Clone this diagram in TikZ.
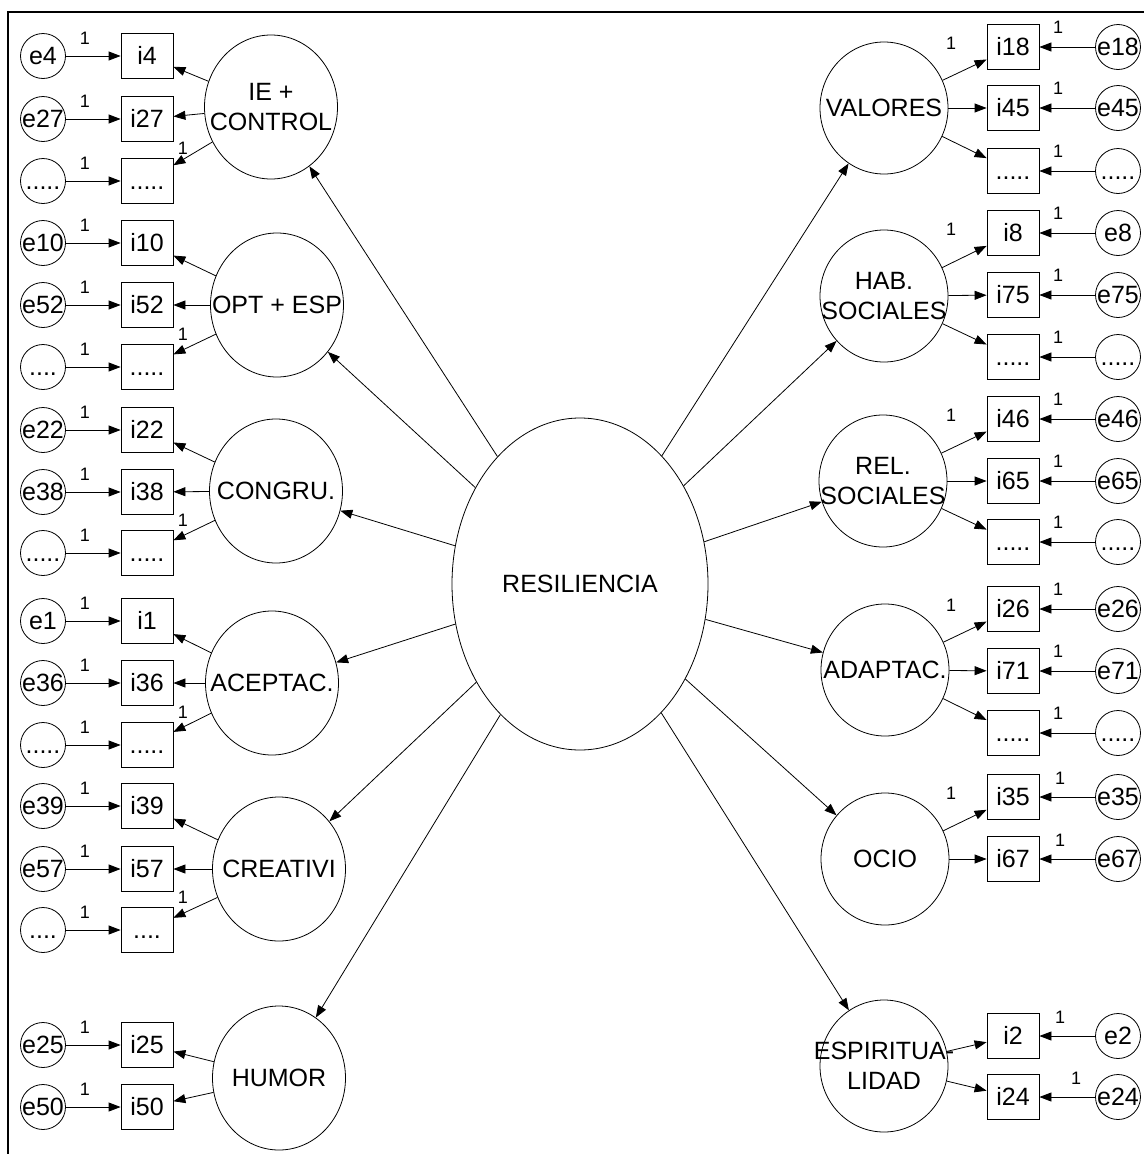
\documentclass[tikz,border=0pt]{standalone}
\usepackage{fontspec}
\setmainfont{Liberation Sans}
\usetikzlibrary{arrows.meta,shapes.geometric}
\newcommand\dotsfive{.....}
\newcommand\dotsfour{....}
\begin{document}
\begin{tikzpicture}[x=1pt,y=-1pt,
 every node/.style={font=\fontsize{25}{30}\selectfont, inner sep=0pt},
 ind/.style={draw, line width=0.8pt, minimum width=52pt, minimum height=45pt, text height=17pt, text depth=0pt},
 err/.style={draw, line width=0.8pt, circle, minimum size=45pt},
 txt/.style={text height=17pt, text depth=0pt},
 latL/.style={draw, line width=0.8pt, ellipse, minimum width=133pt, minimum height=144pt},
 latR/.style={draw, line width=0.8pt, ellipse, minimum width=128pt, minimum height=132pt},
 lab/.style={align=center},
 arr/.style={-{Triangle[length=12pt,width=9pt]}, line width=0.8pt},
 one/.style={font=\fontsize{18}{20}\selectfont},
 frame/.style={line width=2pt}
]
\useasboundingbox (0,0) rectangle (1144,1154);
\draw[frame] (8,1154) -- (8,12) -- (1144,12);

% central factor
\node[draw, line width=0.8pt, ellipse, minimum width=256pt, minimum height=332pt] (res) at (580,584) {};
\node[txt] at (res) {RESILIENCIA};

% left groups with three indicators
\foreach \n/\lx/\ly/\lab/\ya/\yb/\yc/\ba/\bb/\bc/\ea/\eb/\ec in {
  ie/271/107/{IE +\\CONTROL}/56/119/181/i4/i27/\dotsfive/e4/e27/\dotsfive,
  opt/277/305/{OPT + ESP}/243/305/367/i10/i52/\dotsfive/e10/e52/\dotsfour,
  con/276/491/{CONGRU.}/430/492/553/i22/i38/\dotsfive/e22/e38/\dotsfive,
  ace/272/683/{ACEPTAC.}/621/683/745/i1/i36/\dotsfive/e1/e36/\dotsfive,
  cre/279/869/{CREATIVI}/806/869/930/i39/i57/\dotsfour/e39/e57/\dotsfour}{
  \node[latL] (\n) at (\lx,\ly) {};
  \node[lab] at (\n) {\lab};
  \node[ind] (\n b1) at (147,\ya) {\ba};
  \node[ind] (\n b2) at (147,\yb) {\bb};
  \node[ind] (\n b3) at (147,\yc) {\bc};
  \node[err] (\n e1) at (43,\ya) {};
  \node[err] (\n e2) at (43,\yb) {};
  \node[err] (\n e3) at (43,\yc) {};
  \node[txt] at (\n e1) {\ea};
  \node[txt] at (\n e2) {\eb};
  \node[txt] at (\n e3) {\ec};
  \draw[arr] (\n) -- (\n b1);
  \draw[arr] (\n) -- (\n b2);
  \draw[arr] (\n) -- (\n b3);
  \draw[arr] (\n e1) -- (\n b1);
  \draw[arr] (\n e2) -- (\n b2);
  \draw[arr] (\n e3) -- (\n b3);
  \node[one] at (85,\ya-18) {1};
  \node[one] at (85,\yb-18) {1};
  \node[one] at (85,\yc-18) {1};
  \node[one] at (183,\yc-33) {1};
  \draw[arr] (res) -- (\n);
}

% HUMOR
\node[latL] (hum) at (279,1078) {};
\node[lab] at (hum) {HUMOR};
\node[ind] (humb1) at (147,1045) {i25};
\node[ind] (humb2) at (147,1107) {i50};
\node[err] (hume1) at (43,1045) {};
\node[err] (hume2) at (43,1107) {};
\node[txt] at (hume1) {e25};
\node[txt] at (hume2) {e50};
\draw[arr] (hum) -- (humb1);
\draw[arr] (hum) -- (humb2);
\draw[arr] (hume1) -- (humb1);
\draw[arr] (hume2) -- (humb2);
\node[one] at (85,1027) {1};
\node[one] at (85,1089) {1};
\draw[arr] (res) -- (hum);

% right groups with three indicators
\foreach \n/\lx/\ly/\lab/\ya/\yb/\yc/\ba/\bb/\bc/\ea/\eb/\ec in {
  val/884/108/{VALORES}/47/108/171/i18/i45/\dotsfive/e18/e45/\dotsfive,
  hab/884/296/{HAB.\\SOCIALES}/233/295/357/i8/i75/\dotsfive/e8/e75/\dotsfive,
  rel/883/481/{REL.\\SOCIALES}/419/481/542/i46/i65/\dotsfive/e46/e65/\dotsfive,
  ada/885/670/{ADAPTAC.}/609/671/733/i26/i71/\dotsfive/e26/e71/\dotsfive}{
  \node[latR] (\n) at (\lx,\ly) {};
  \node[lab] at (\n) {\lab};
  \node[ind] (\n b1) at (1013,\ya) {\ba};
  \node[ind] (\n b2) at (1013,\yb) {\bb};
  \node[ind] (\n b3) at (1013,\yc) {\bc};
  \node[err] (\n e1) at (1118,\ya) {};
  \node[err] (\n e2) at (1118,\yb) {};
  \node[err] (\n e3) at (1118,\yc) {};
  \node[txt] at (\n e1) {\ea};
  \node[txt] at (\n e2) {\eb};
  \node[txt] at (\n e3) {\ec};
  \draw[arr] (\n) -- (\n b1);
  \draw[arr] (\n) -- (\n b2);
  \draw[arr] (\n) -- (\n b3);
  \draw[arr] (\n e1) -- (\n b1);
  \draw[arr] (\n e2) -- (\n b2);
  \draw[arr] (\n e3) -- (\n b3);
  \node[one] at (1058,\ya-20) {1};
  \node[one] at (1058,\yb-20) {1};
  \node[one] at (1058,\yc-20) {1};
  \node[one] at (951,\ya-4) {1};
  \draw[arr] (res) -- (\n);
}

% OCIO
\node[latR] (oci) at (885,859) {};
\node[lab] at (oci) {OCIO};
\node[ind] (ocib1) at (1013,797) {i35};
\node[ind] (ocib2) at (1013,859) {i67};
\node[err] (ocie1) at (1118,797) {};
\node[err] (ocie2) at (1118,859) {};
\node[txt] at (ocie1) {e35};
\node[txt] at (ocie2) {e67};
\draw[arr] (oci) -- (ocib1);
\draw[arr] (oci) -- (ocib2);
\draw[arr] (ocie1) -- (ocib1);
\draw[arr] (ocie2) -- (ocib2);
\node[one] at (1060,778) {1};
\node[one] at (1060,840) {1};
\node[one] at (951,793) {1};
\draw[arr] (res) -- (oci);

% ESPIRITUALIDAD
\node[latR] (esp) at (884,1066) {};
\node[lab] at (esp) {ESPIRITUA-\\LIDAD};
\node[ind] (espb1) at (1013,1036) {i2};
\node[ind] (espb2) at (1013,1097) {i24};
\node[err] (espe1) at (1118,1036) {};
\node[err] (espe2) at (1118,1097) {};
\node[txt] at (espe1) {e2};
\node[txt] at (espe2) {e24};
\draw[arr] (esp) -- (espb1);
\draw[arr] (esp) -- (espb2);
\draw[arr] (espe1) -- (espb1);
\draw[arr] (espe2) -- (espb2);
\node[one] at (1060,1017) {1};
\node[one] at (1076,1078) {1};
\draw[arr] (res) -- (esp);
\end{tikzpicture}
\end{document}
